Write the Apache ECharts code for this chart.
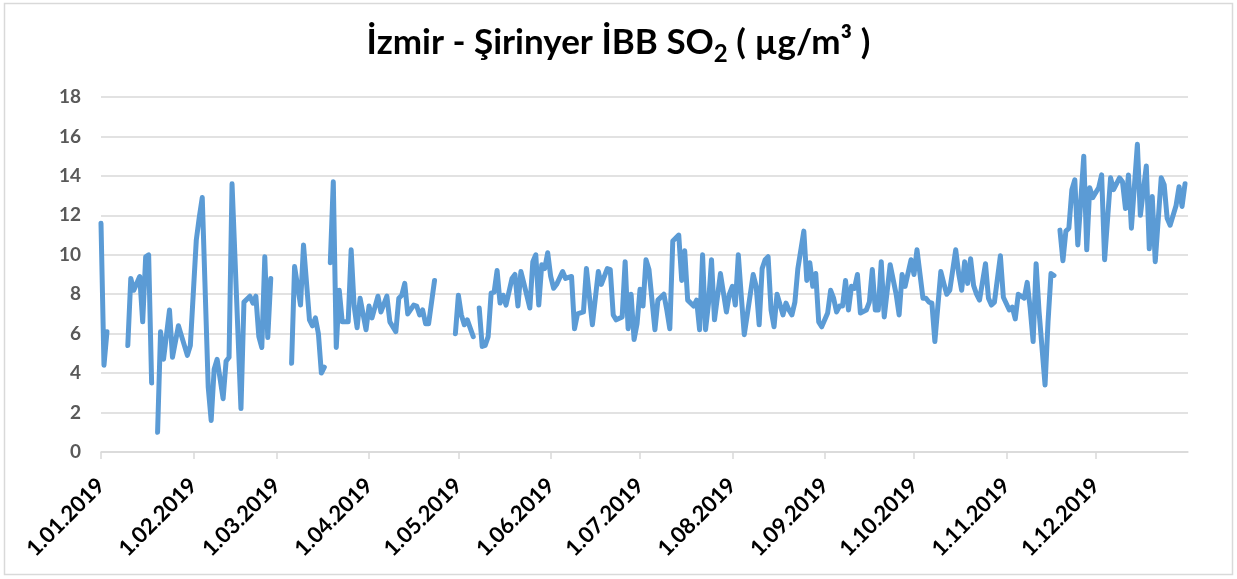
<!DOCTYPE html>
<html>
<head>
<meta charset="utf-8">
<script src="https://cdn.jsdelivr.net/npm/echarts@6/dist/echarts.min.js"></script>
<style>
  html, body { margin: 0; padding: 0; background: #fff; }
  #main { width: 1237px; height: 579px; }
</style>
</head>
<body>
<div id="main"></div>
<script>
// day of year (0 = 1 Jan 2019) and daily SO2 values; null = missing data
var days = [0, 1, 2, 5,
  9, 10, 11, 13, 14, 15, 16, 17, 18,
  19, 20, 21, 23, 24, 26, 27, 29, 30, 32, 33, 34, 36, 37, 38, 39, 41, 42, 43, 44, 47,
  48, 50, 51, 52, 53, 54, 55, 56, 57, 60,
  64, 65, 67, 68, 70, 71, 72, 73, 74, 75, 76,
  77, 78, 79, 80, 81, 83, 84, 85, 86, 87, 89, 90, 91, 93, 94, 96, 97, 99, 100, 101, 102, 103,
  105, 106, 107, 108, 109, 110, 112, 115,
  119, 120, 121, 122, 123, 125, 126,
  127, 128, 129, 130, 131, 132, 133, 134, 135, 136, 138, 139, 140, 141, 142, 144, 145, 146,
  147, 148, 149, 150, 151, 152, 153, 155, 156, 158, 159, 160, 162, 163, 165, 167, 168, 170,
  171, 172, 173, 175, 176, 177, 178, 179, 180, 181, 182, 183, 184, 186, 187, 189, 190, 191,
  192, 194, 195, 196, 197, 199, 200, 201, 202, 203, 204, 205, 206, 208, 210, 211, 212, 213,
  214, 215, 216, 217, 219, 220, 221, 222, 223, 224, 225, 226, 227, 229, 230, 231, 232, 233,
  234, 236, 237, 238, 239, 240, 241, 242, 244, 245, 246, 247, 248, 249, 250, 251, 252, 253,
  254, 255, 257, 258, 259, 260, 261, 262, 263, 265, 267, 268, 269, 270, 272, 273, 274, 276,
  277, 278, 279, 280, 282, 283, 284, 285, 287, 288, 289, 290, 291, 292, 293, 294, 295, 297,
  298, 299, 300, 302, 303, 305, 306, 307, 308, 310, 311, 312, 313, 314, 315, 317, 318, 319,
  320, 321,
  322, 323, 324, 325, 326, 327, 328, 330, 331, 332, 333, 335, 336, 337, 339, 340, 342, 343,
  344, 345, 346, 348, 349, 351, 352, 353, 354, 356, 357, 358, 359, 361, 362, 363, 364];

var so2 = [11.6, 4.4, 6.1, null,
  5.4, 8.8, 8.2, 8.9, 6.6, 9.9, 10.0, 3.5, null,
  1.0, 6.1, 4.7, 7.2, 4.8, 6.4, 5.9, 4.9, 5.4, 10.75, 11.9, 12.9, 3.3, 1.6, 4.2, 4.7, 2.7, 4.6, 4.8, 13.6, 2.2,
  7.6, 7.9, 7.55, 7.9, 5.85, 5.3, 9.9, 5.8, 8.8, null,
  4.5, 9.4, 7.45, 10.5, 6.7, 6.4, 6.8, 6.0, 4.0, 4.3, null,
  9.6, 13.7, 5.3, 8.2, 6.6, 6.6, 10.25, 7.4, 6.3, 7.8, 6.2, 7.4, 6.8, 7.9, 7.1, 7.9, 6.6, 6.1, 7.8, 7.95, 8.55, 7.0,
  7.45, 7.4, 6.95, 7.2, 6.5, 6.5, 8.7, null,
  6.0, 7.95, 6.95, 6.45, 6.7, 5.85, null,
  7.3, 5.35, 5.4, 5.85, 8.05, 8.1, 9.2, 7.55, 7.95, 7.45, 8.8, 9.0, 7.4, 9.15, 8.55, 7.3, 9.65, 10.0,
  7.45, 9.5, 9.3, 10.1, 8.9, 8.3, 8.5, 9.15, 8.8, 8.9, 6.25, 7.0, 7.1, 9.3, 6.45, 9.15, 8.5, 9.3,
  9.25, 6.95, 6.7, 6.85, 9.65, 6.25, 8.0, 5.7, 6.5, 8.25, 7.4, 9.75, 9.25, 6.2, 7.7, 8.0, 7.2, 6.25,
  10.7, 11.0, 8.7, 10.2, 7.7, 7.4, 7.7, 6.2, 10.0, 6.2, 7.55, 9.75, 6.7, 9.05, 7.1, 8.0, 8.4, 7.45,
  10.0, 7.9, 5.95, 6.95, 9.0, 8.4, 6.45, 9.3, 9.75, 9.9, 7.2, 6.35, 8.0, 6.95, 7.55, 7.2, 6.95, 7.6,
  9.3, 11.2, 8.7, 9.6, 8.4, 9.05, 6.6, 6.35, 7.05, 8.2, 7.8, 7.1, 7.4, 7.4, 8.7, 7.2, 8.4, 8.3,
  9.0, 7.05, 7.2, 7.6, 9.25, 7.2, 7.2, 9.65, 6.85, 9.5, 8.0, 6.95, 9.0, 8.4, 9.75, 9.0, 10.25, 7.8,
  7.8, 7.6, 7.55, 5.6, 9.15, 8.55, 8.0, 8.2, 10.25, 9.05, 8.2, 9.65, 8.55, 9.8, 8.45, 8.0, 7.7, 9.55,
  7.8, 7.45, 7.6, 9.95, 7.85, 7.2, 7.35, 6.75, 8.0, 7.8, 8.6, 7.3, 5.6, 9.55, 7.1, 3.4, 6.6, 9.05,
  8.95, null,
  11.25, 9.7, 11.2, 11.35, 13.3, 13.8, 10.5, 15.0, 10.25, 13.4, 12.9, 13.4, 14.05, 9.75, 13.9, 13.3, 13.9, 13.7,
  12.35, 14.05, 11.35, 15.6, 12.0, 14.5, 10.3, 12.95, 9.65, 13.9, 13.55, 11.85, 11.5, 12.5, 13.45, 12.45, 13.6];

// first day of each month (day of year) and its label
var monthStarts = [0, 31, 59, 90, 120, 151, 181, 212, 243, 273, 304, 334];
var monthLabels = ['1.01.2019', '1.02.2019', '1.03.2019', '1.04.2019', '1.05.2019', '1.06.2019',
  '1.07.2019', '1.08.2019', '1.09.2019', '1.10.2019', '1.11.2019', '1.12.2019'];

var chart = echarts.init(document.getElementById('main'));

var seriesData = days.map(function (d, i) { return [d, so2[i]]; });

var option = {
  backgroundColor: '#fff',
  title: {
    text: '{t|İzmir - Şirinyer İBB SO}{s|2}{t| ( µg/m³ )}',
    left: 'center',
    top: 15,
    textStyle: {
      rich: {
        t: { fontFamily: 'Lato', fontWeight: 'bold', fontSize: 35, color: '#000', lineHeight: 46 },
        s: { fontFamily: 'Lato', fontWeight: 'bold', fontSize: 24, color: '#000', lineHeight: 34, verticalAlign: 'bottom' }
      }
    }
  },
  graphic: [{
    type: 'rect',
    shape: { x: 4.5, y: 3.5, width: 1228, height: 571 },
    style: { fill: 'none', stroke: '#d9d9d9', lineWidth: 1.5 },
    silent: true
  }],
  grid: { left: 101, right: 49, top: 97, bottom: 127 },
  xAxis: {
    type: 'value',
    min: 0,
    max: 365,
    axisLine: { lineStyle: { color: '#d9d9d9', width: 1.5 } },
    axisTick: { show: true, length: 7, customValues: monthStarts, lineStyle: { color: '#d9d9d9', width: 1.5 } },
    splitLine: { show: false },
    axisLabel: {
      customValues: monthStarts,
      rotate: 45,
      margin: 30,
      color: '#000',
      fontFamily: 'Lato',
      fontWeight: 'bold',
      fontSize: 22,
      formatter: function (v) {
        var i = monthStarts.indexOf(v);
        return i >= 0 ? monthLabels[i] : '';
      }
    }
  },
  yAxis: {
    type: 'value',
    min: 0,
    max: 18,
    interval: 2,
    axisLine: { show: false },
    axisTick: { show: false },
    splitLine: { lineStyle: { color: '#d9d9d9', width: 1.5 } },
    axisLabel: { margin: 20, color: '#595959', fontFamily: 'Lato', fontWeight: 'bold', fontSize: 19 }
  },
  series: [{
    name: 'SO2',
    type: 'line',
    data: seriesData,
    showSymbol: false,
    connectNulls: false,
    lineStyle: { color: '#5b9bd5', width: 5, cap: 'round', join: 'round' },
    itemStyle: { color: '#5b9bd5' },
    animation: false
  }]
};

chart.setOption(option);
</script>
</body>
</html>
